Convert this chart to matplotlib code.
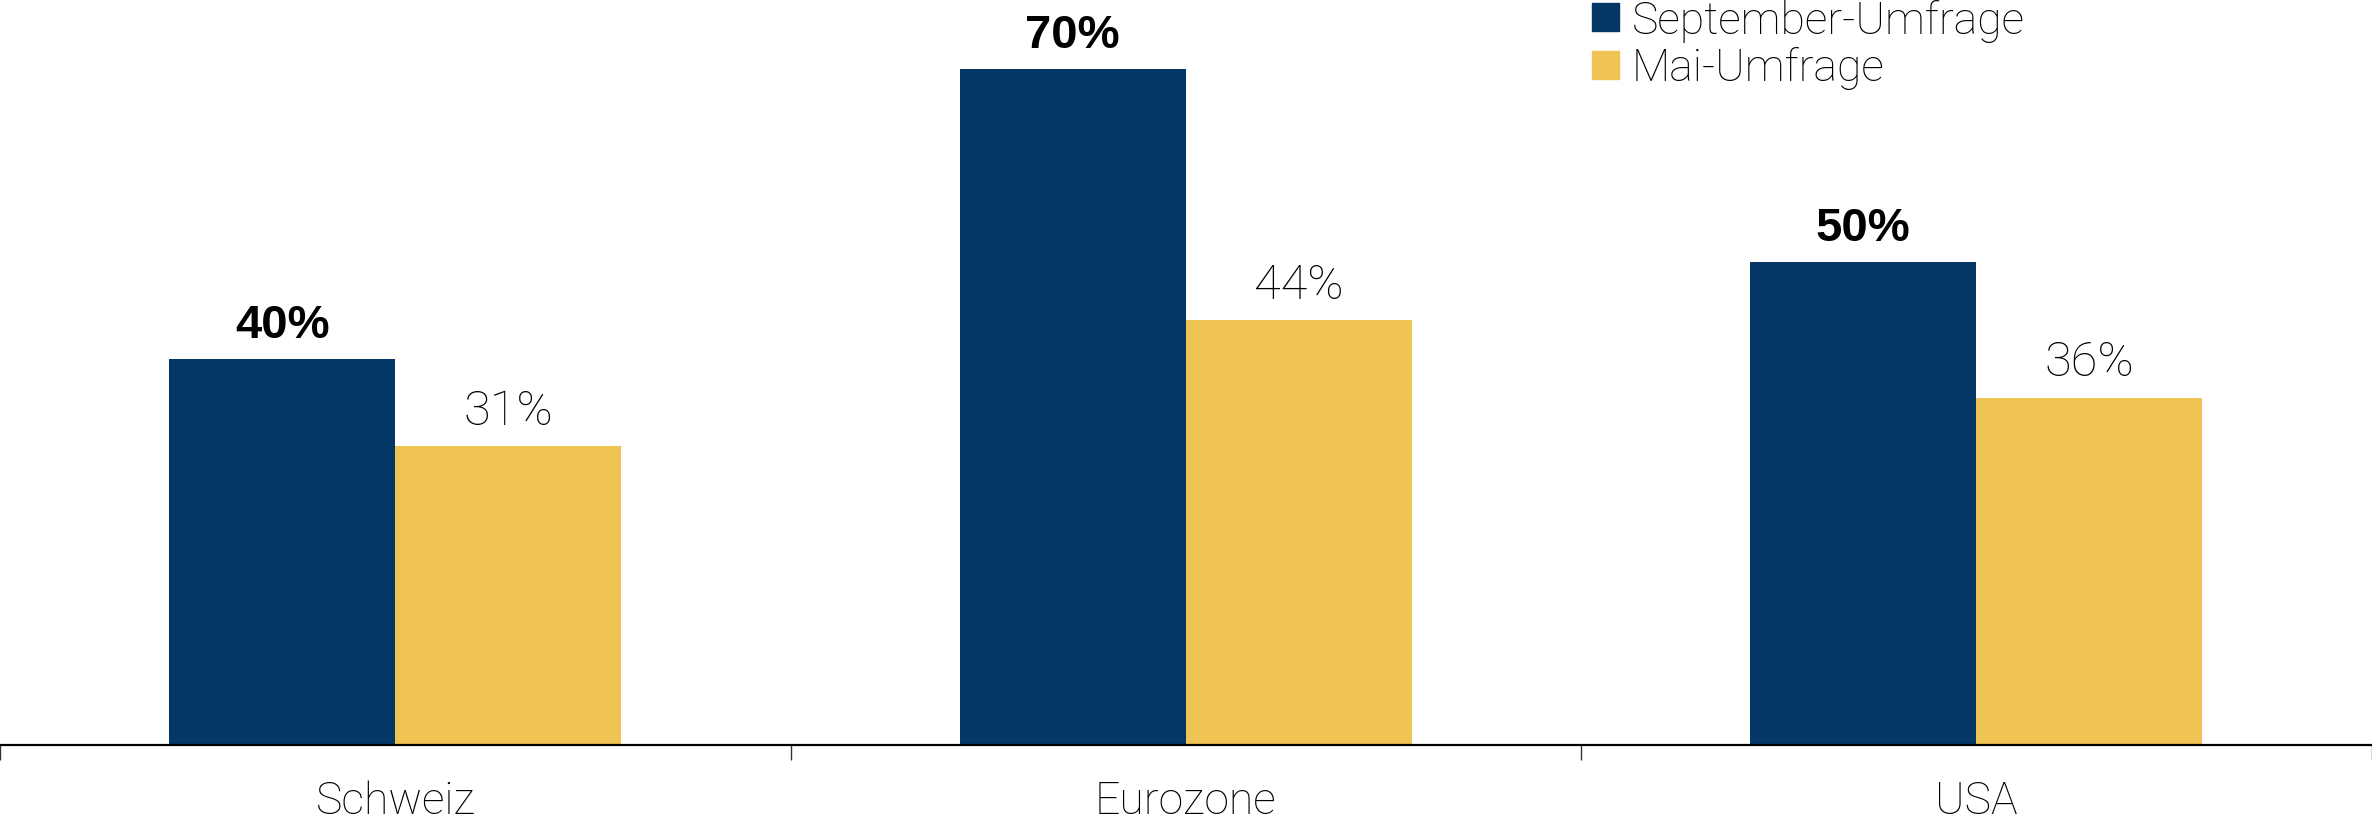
import numpy as np
import matplotlib.pyplot as plt
from matplotlib.patches import Patch

plt.rcParams['font.family'] = ['Roboto', 'DejaVu Sans']

categories = ['Schweiz', 'Eurozone', 'USA']
september = [40, 70, 50]
mai = [31, 44, 36]
series_names = ['September-Umfrage', 'Mai-Umfrage']

blue = '#043765'
yellow = '#F0C355'

fig = plt.figure(figsize=(23.72, 8.28), dpi=100)
ax = fig.add_axes([0, 82 / 828, 2371.5 / 2372, 746 / 828])

x = np.arange(len(categories))
w = 0.286
bars1 = ax.bar(x - w, september, width=w, align='edge', color=blue)
bars2 = ax.bar(x, mai, width=w, align='edge', color=yellow)

# value labels, bold for september
for b, v in zip(bars1, september):
    ax.annotate(f'{v}%', (b.get_x() + b.get_width() / 2, b.get_height()),
                xytext=(0, 16), textcoords='offset points', ha='center', va='baseline',
                fontsize=34, fontweight='bold', family=['Liberation Sans', 'DejaVu Sans'])
for b, v in zip(bars2, mai):
    ax.annotate(f'{v}%', (b.get_x() + b.get_width() / 2, b.get_height()),
                xytext=(0, 16), textcoords='offset points', ha='center', va='baseline',
                fontsize=35, fontweight='light')

ax.set_xlim(-0.5, len(categories) - 0.5)
ax.set_ylim(0, 77.3)

# boundary ticks, labels at centers
ax.set_xticks(np.arange(len(categories) + 1) - 0.5)
ax.set_xticklabels([])
ax.tick_params(axis='x', which='major', length=11, width=1, color='#333333', direction='out')
ax.set_xticks(x, minor=True)
ax.set_xticklabels(categories, minor=True, fontsize=32, fontweight='light')
ax.tick_params(axis='x', which='minor', length=0, pad=25)
for t in ax.xaxis.get_major_ticks():
    t.tick1line.set_clip_on(False)

ax.set_yticks([])
for s in ['top', 'right', 'left']:
    ax.spines[s].set_visible(False)
ax.spines['bottom'].set_linewidth(1.6)
ax.spines['bottom'].set_color('black')

handles = [Patch(color=blue), Patch(color=yellow)]
fig.legend(handles, series_names, loc='upper left', bbox_to_anchor=(1592 / 2372, 1.0),
           frameon=False, prop={'weight': 'light', 'size': 32},
           handlelength=0.6, handleheight=0.6, handletextpad=0.3,
           labelspacing=0.1, borderpad=0, borderaxespad=0)

fig.savefig('out.png', dpi=100)
